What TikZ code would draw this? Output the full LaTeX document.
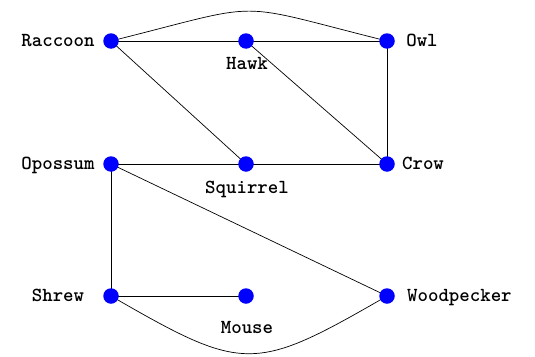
\documentclass[tikz,border=0pt]{standalone}
\usepackage{fontspec}
\newfontfamily\lblfont{lmmonolt10-bold.otf}
\begin{document}
\begin{tikzpicture}[x=1pt,y=-1pt,
  vertex/.style={circle,fill=blue,inner sep=0pt,minimum size=15.5pt},
  lbl/.style={font=\lblfont\fontsize{19.9}{22}\selectfont,inner sep=0pt,anchor=base},
  lblw/.style={lbl,anchor=base west},
  edge/.style={draw=black,line width=0.7pt}]
\useasboundingbox (0,0) rectangle (535,356);
% vertices
\coordinate (pRac) at (111,41);
\coordinate (pHaw) at (246,41);
\coordinate (pOwl) at (387,41);
\coordinate (pOpo) at (111,164);
\coordinate (pSqu) at (246,164);
\coordinate (pCro) at (387,164);
\coordinate (pShr) at (111,296);
\coordinate (pMou) at (246,296);
\coordinate (pWoo) at (387,296);
% edges
\draw[edge] (pRac) -- (pHaw);
\draw[edge] (pHaw) -- (pOwl);
\draw[edge] (pRac) to[out=14,in=166,looseness=1.53] (pOwl);
\draw[edge] (pRac) -- (pSqu);
\draw[edge] (pHaw) -- (pCro);
\draw[edge] (pOwl) -- (pCro);
\draw[edge] (pOpo) -- (pSqu);
\draw[edge] (pSqu) -- (pCro);
\draw[edge] (pOpo) -- (pShr);
\draw[edge] (pOpo) -- (pWoo);
\draw[edge] (pShr) -- (pMou);
\draw[edge] (pShr) to[out=-30,in=-150,looseness=1.43] (pWoo);
% dots
\foreach \p in {pRac,pHaw,pOwl,pOpo,pSqu,pCro,pShr,pMou,pWoo}
  \node[vertex] (d\p) at (\p) {};
% labels
\node[lbl] (tRac) at (58,46.5) {Raccoon};
\node[lbl] (tHaw) at (247,69.5) {Hawk};
\node[lbl] (tOwl) at (422,46.5) {Owl};
\node[lbl] (tOpo) at (58,169.5) {Opossum};
\node[lbl] (tSqu) at (247,193.5) {Squirrel};
\node[lbl] (tCro) at (423,169.5) {Crow};
\node[lbl] (tShr) at (58,301.5) {Shrew};
\node[lbl] (tMou) at (247,333) {Mouse};
\node[lblw] (tWoo) at (407,301.5) {Woodpecker};
\end{tikzpicture}
\end{document}
